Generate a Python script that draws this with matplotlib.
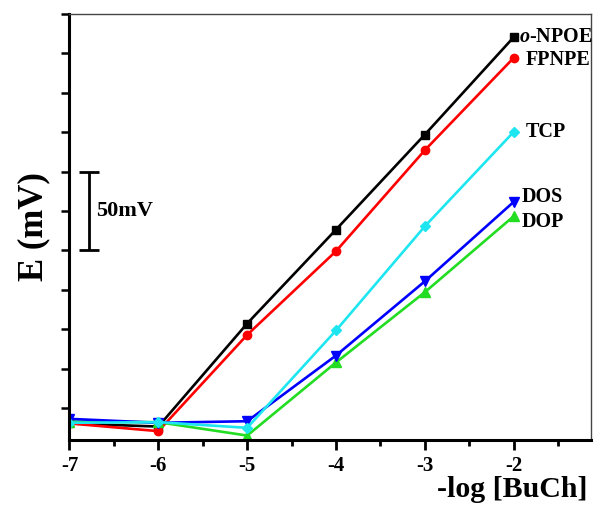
import matplotlib
matplotlib.use("Agg")
import matplotlib.pyplot as plt
from matplotlib.ticker import MultipleLocator

plt.rcParams['font.family'] = ['Liberation Serif', 'DejaVu Serif']
plt.rcParams['font.weight'] = 'bold'
plt.rcParams['mathtext.fontset'] = 'custom'
plt.rcParams['mathtext.it'] = 'Liberation Serif:italic:bold'
plt.rcParams['mathtext.rm'] = 'Liberation Serif:bold'

# -log[BuCh] vs potential (mV)
log_conc = [-7, -6, -5, -4, -3, -2]
npoe = [-9.8, -11.8, 53.6, 113.2, 173.5, 235.3]
fpnpe = [-9.8, -14.7, 46.4, 99.5, 163.6, 222.2]
tcp = [-9.4, -9.0, -12.6, 49.2, 115.3, 175.2]
dos = [-6.9, -9.4, -8.4, 33.3, 80.4, 130.8]
dop = [-8.6, -9.0, -17.5, 28.9, 73.5, 121.7]
xtick_labels = ['-7', '-6', '-5', '-4', '-3', '-2']

fig = plt.figure(figsize=(6.01, 5.05), dpi=100)
ax = fig.add_axes([0.1156, 0.1297, 0.8678, 0.8426])

lw = 1.9
ax.plot(log_conc, npoe, color='black', marker='s', ms=5.5, lw=lw)
ax.plot(log_conc, fpnpe, color='#ff0000', marker='o', ms=6, lw=lw)
ax.plot(log_conc, dop, color='#22dd22', marker='^', ms=6.5, lw=lw)
ax.plot(log_conc, dos, color='#0000ff', marker='v', ms=6.5, lw=lw)
ax.plot(log_conc, tcp, color='#1ee6f0', marker='D', ms=5.5, lw=lw)

# curve labels at the last points
lab_kw = dict(textcoords='offset pixels', fontsize=14.5, fontweight='bold',
              va='center', ha='left')
ax.annotate(r'$\mathit{o}$-NPOE', (log_conc[-1], npoe[-1]), xytext=(5, 0), **lab_kw)
ax.annotate('FPNPE', (log_conc[-1], fpnpe[-1]), xytext=(12, -2), **lab_kw)
ax.annotate('TCP', (log_conc[-1], tcp[-1]), xytext=(12, 0), **lab_kw)
ax.annotate('DOS', (log_conc[-1], dos[-1]), xytext=(8, 5), **lab_kw)
ax.annotate('DOP', (log_conc[-1], dop[-1]), xytext=(8, -6), **lab_kw)

# 50 mV scale bar
ax.errorbar([-6.78], [125], yerr=[[25], [25]], color='black', lw=2,
            capsize=7.5, capthick=2)
ax.text(-6.70, 125, '50mV', fontsize=16, fontweight='bold', va='center', ha='left')

ax.set_xlim(-7, -1.13)
ax.set_ylim(-20, 250)
ax.set_xticks(log_conc)
ax.set_xticklabels(xtick_labels)
ax.xaxis.set_minor_locator(MultipleLocator(0.5))
ax.yaxis.set_major_locator(MultipleLocator(25))
ax.set_yticklabels([])
ax.tick_params(axis='x', which='major', direction='out', length=7, width=2,
               labelsize=15, pad=5)
ax.tick_params(axis='x', which='minor', direction='out', length=4, width=2)
ax.tick_params(axis='y', which='major', direction='out', length=6, width=1.8)

for side in ['left', 'bottom']:
    ax.spines[side].set_linewidth(2.2)
for side in ['top', 'right']:
    ax.spines[side].set_linewidth(1.0)
    ax.spines[side].set_color('#444444')

ax.set_ylabel('E (mV)', fontsize=25, fontweight='bold', labelpad=4)
fig.text(0.977, 0.004, '-log [BuCh]', fontsize=21.5, fontweight='bold',
         ha='right', va='bottom')

fig.savefig('out.png', dpi=100)
